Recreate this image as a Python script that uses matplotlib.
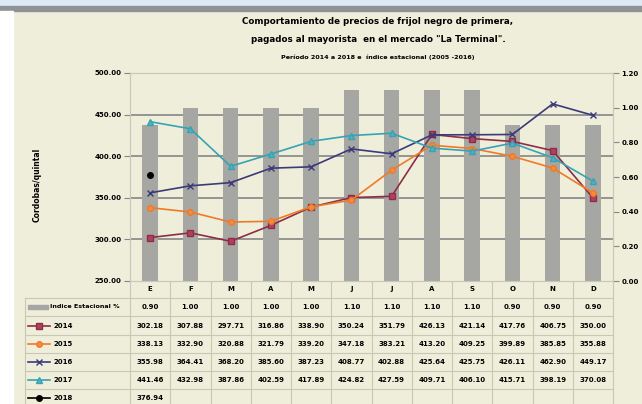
import matplotlib.pyplot as plt
import matplotlib.transforms as mtransforms
from matplotlib.lines import Line2D
from matplotlib.patches import Rectangle
import numpy as np

meses = ['E', 'F', 'M', 'A', 'M', 'J', 'J', 'A', 'S', 'O', 'N', 'D']
indice = [0.90, 1.00, 1.00, 1.00, 1.00, 1.10, 1.10, 1.10, 1.10, 0.90, 0.90, 0.90]
p2014 = [302.18, 307.88, 297.71, 316.86, 338.90, 350.24, 351.79, 426.13, 421.14, 417.76, 406.75, 350.00]
p2015 = [338.13, 332.90, 320.88, 321.79, 339.20, 347.18, 383.21, 413.20, 409.25, 399.89, 385.85, 355.88]
p2016 = [355.98, 364.41, 368.20, 385.60, 387.23, 408.77, 402.88, 425.64, 425.75, 426.11, 462.90, 449.17]
p2017 = [441.46, 432.98, 387.86, 402.59, 417.89, 424.82, 427.59, 409.71, 406.10, 415.71, 398.19, 370.08]
p2018 = [376.94]

series = [('2014', p2014, '#8E2D45', '#B0405E', 's'),
          ('2015', p2015, '#F07A28', '#F58B3C', 'o'),
          ('2016', p2016, '#3C3A78', '#6A6098', 'x'),
          ('2017', p2017, '#36A3B5', '#4FB3C2', '^'),
          ('2018', p2018, '#000000', '#000000', 'o')]

W, H = 642, 404
bg = '#EFEEDA'
fig = plt.figure(figsize=(W / 100, H / 100), dpi=100, facecolor=bg)
fs = 5

def fy(py):
    return 1 - py / H

# banda superior y franja izquierda
fig.patches.append(Rectangle((0, fy(6)), 1, 6 / H, transform=fig.transFigure, color='#DDEAF6', zorder=0))
fig.patches.append(Rectangle((0, fy(11)), 1, 5 / H, transform=fig.transFigure, color='#8F9396', zorder=0))
fig.patches.append(Rectangle((0, 0), 13 / W, fy(11), transform=fig.transFigure, color='white', zorder=0))

ax = fig.add_axes([130 / W, fy(281), 483 / W, (281 - 73) / H])
ax2 = ax.twinx()
ax.set_zorder(ax2.get_zorder() + 1)
ax.patch.set_visible(False)
ax2.patch.set_facecolor('#FBFAF1')

x = np.arange(len(meses))
ax2.bar(x, indice, width=0.38, color='#A6A6A2', zorder=2)
ax2.set_ylim(0, 1.2)
ax2.set_yticks(np.arange(0, 1.21, 0.2))
ax2.set_yticklabels(['%.2f' % v for v in np.arange(0, 1.21, 0.2)], fontsize=fs, fontweight='bold')

for name, vals, lc, mc, mk in series:
    ax.plot(x[:len(vals)], vals, color=lc, lw=1.2, marker=mk, ms=4, mfc=mc, mec=lc, mew=1, zorder=3)

ax.set_xlim(-0.5, 11.5)
ax.set_ylim(250, 500)
ax.set_yticks(np.arange(250, 501, 50))
ax.set_yticklabels(['%.2f' % v for v in np.arange(250, 501, 50)], fontsize=fs, fontweight='bold')
ax.set_xticks([])
for v in [300, 350, 400, 450]:
    ax2.axhline((v - 250) / 250 * 1.2, color='#858585', lw=1.2, zorder=1)
for a in (ax, ax2):
    for s in a.spines.values():
        s.set_color('#C8C8BC')
        s.set_linewidth(0.8)
ax.tick_params(axis='y', length=4, color='#858585', pad=2)
ax2.tick_params(axis='y', length=4, color='#858585', pad=2)

fig.text(37 / W, fy(185), 'Cordobas/quintal', rotation=90, ha='center', va='center',
         fontsize=5.5, fontweight='bold')

fig.text(378 / W, fy(22), 'Comportamiento de precios de frijol negro de primera,', ha='center', va='center',
         fontsize=6.3, fontweight='bold')
fig.text(378 / W, fy(40), 'pagados al mayorista  en el mercado "La Terminal".', ha='center', va='center',
         fontsize=6.3, fontweight='bold')
fig.text(378 / W, fy(57), 'Período 2014 a 2018 e  índice estacional (2005 -2016)', ha='center', va='center',
         fontsize=4.6, fontweight='bold')

# tabla de datos
tr = fig.transFigure
blend = mtransforms.blended_transform_factory(ax.transData, fig.transFigure)
rows_y = [289, 307, 326, 344, 362, 380, 398]
lines_y = [298, 316, 335, 353, 371, 389]
gc = '#C9C8B6'
for ly in lines_y:
    fig.lines.append(Line2D([25 / W, 613 / W], [fy(ly), fy(ly)], transform=tr, color=gc, lw=0.8))
for xb in np.arange(-0.5, 12.0, 1.0):
    fig.lines.append(Line2D([xb, xb], [fy(282), fy(404)], transform=blend, color=gc, lw=0.8))
fig.lines.append(Line2D([25 / W, 25 / W], [fy(298), fy(404)], transform=tr, color=gc, lw=0.8))

for i, m in enumerate(meses):
    fig.text(i, fy(rows_y[0]), m, transform=blend, ha='center', va='center', fontsize=fs, fontweight='bold')
    fig.text(i, fy(rows_y[1]), '%.2f' % indice[i], transform=blend, ha='center', va='center',
             fontsize=fs, fontweight='bold')
fig.patches.append(Rectangle((28 / W, fy(309)), 20 / W, 4 / H, transform=tr, color='#A6A6A2'))
fig.text(50 / W, fy(rows_y[1]), 'Indice Estacional %', ha='left', va='center', fontsize=4.6, fontweight='bold')

for r, (name, vals, lc, mc, mk) in enumerate(series):
    yy = fy(rows_y[r + 2])
    fig.lines.append(Line2D([28 / W, 50 / W], [yy, yy], transform=tr, color=lc, lw=1.2))
    fig.lines.append(Line2D([39 / W], [yy], transform=tr, color=lc, marker=mk, ms=4, mfc=mc, mec=lc))
    fig.text(53 / W, yy, name, ha='left', va='center', fontsize=fs, fontweight='bold')
    for i, v in enumerate(vals):
        fig.text(i, yy, '%.2f' % v, transform=blend, ha='center', va='center', fontsize=fs, fontweight='bold')

fig.savefig('out.png', dpi=100, facecolor=bg)
